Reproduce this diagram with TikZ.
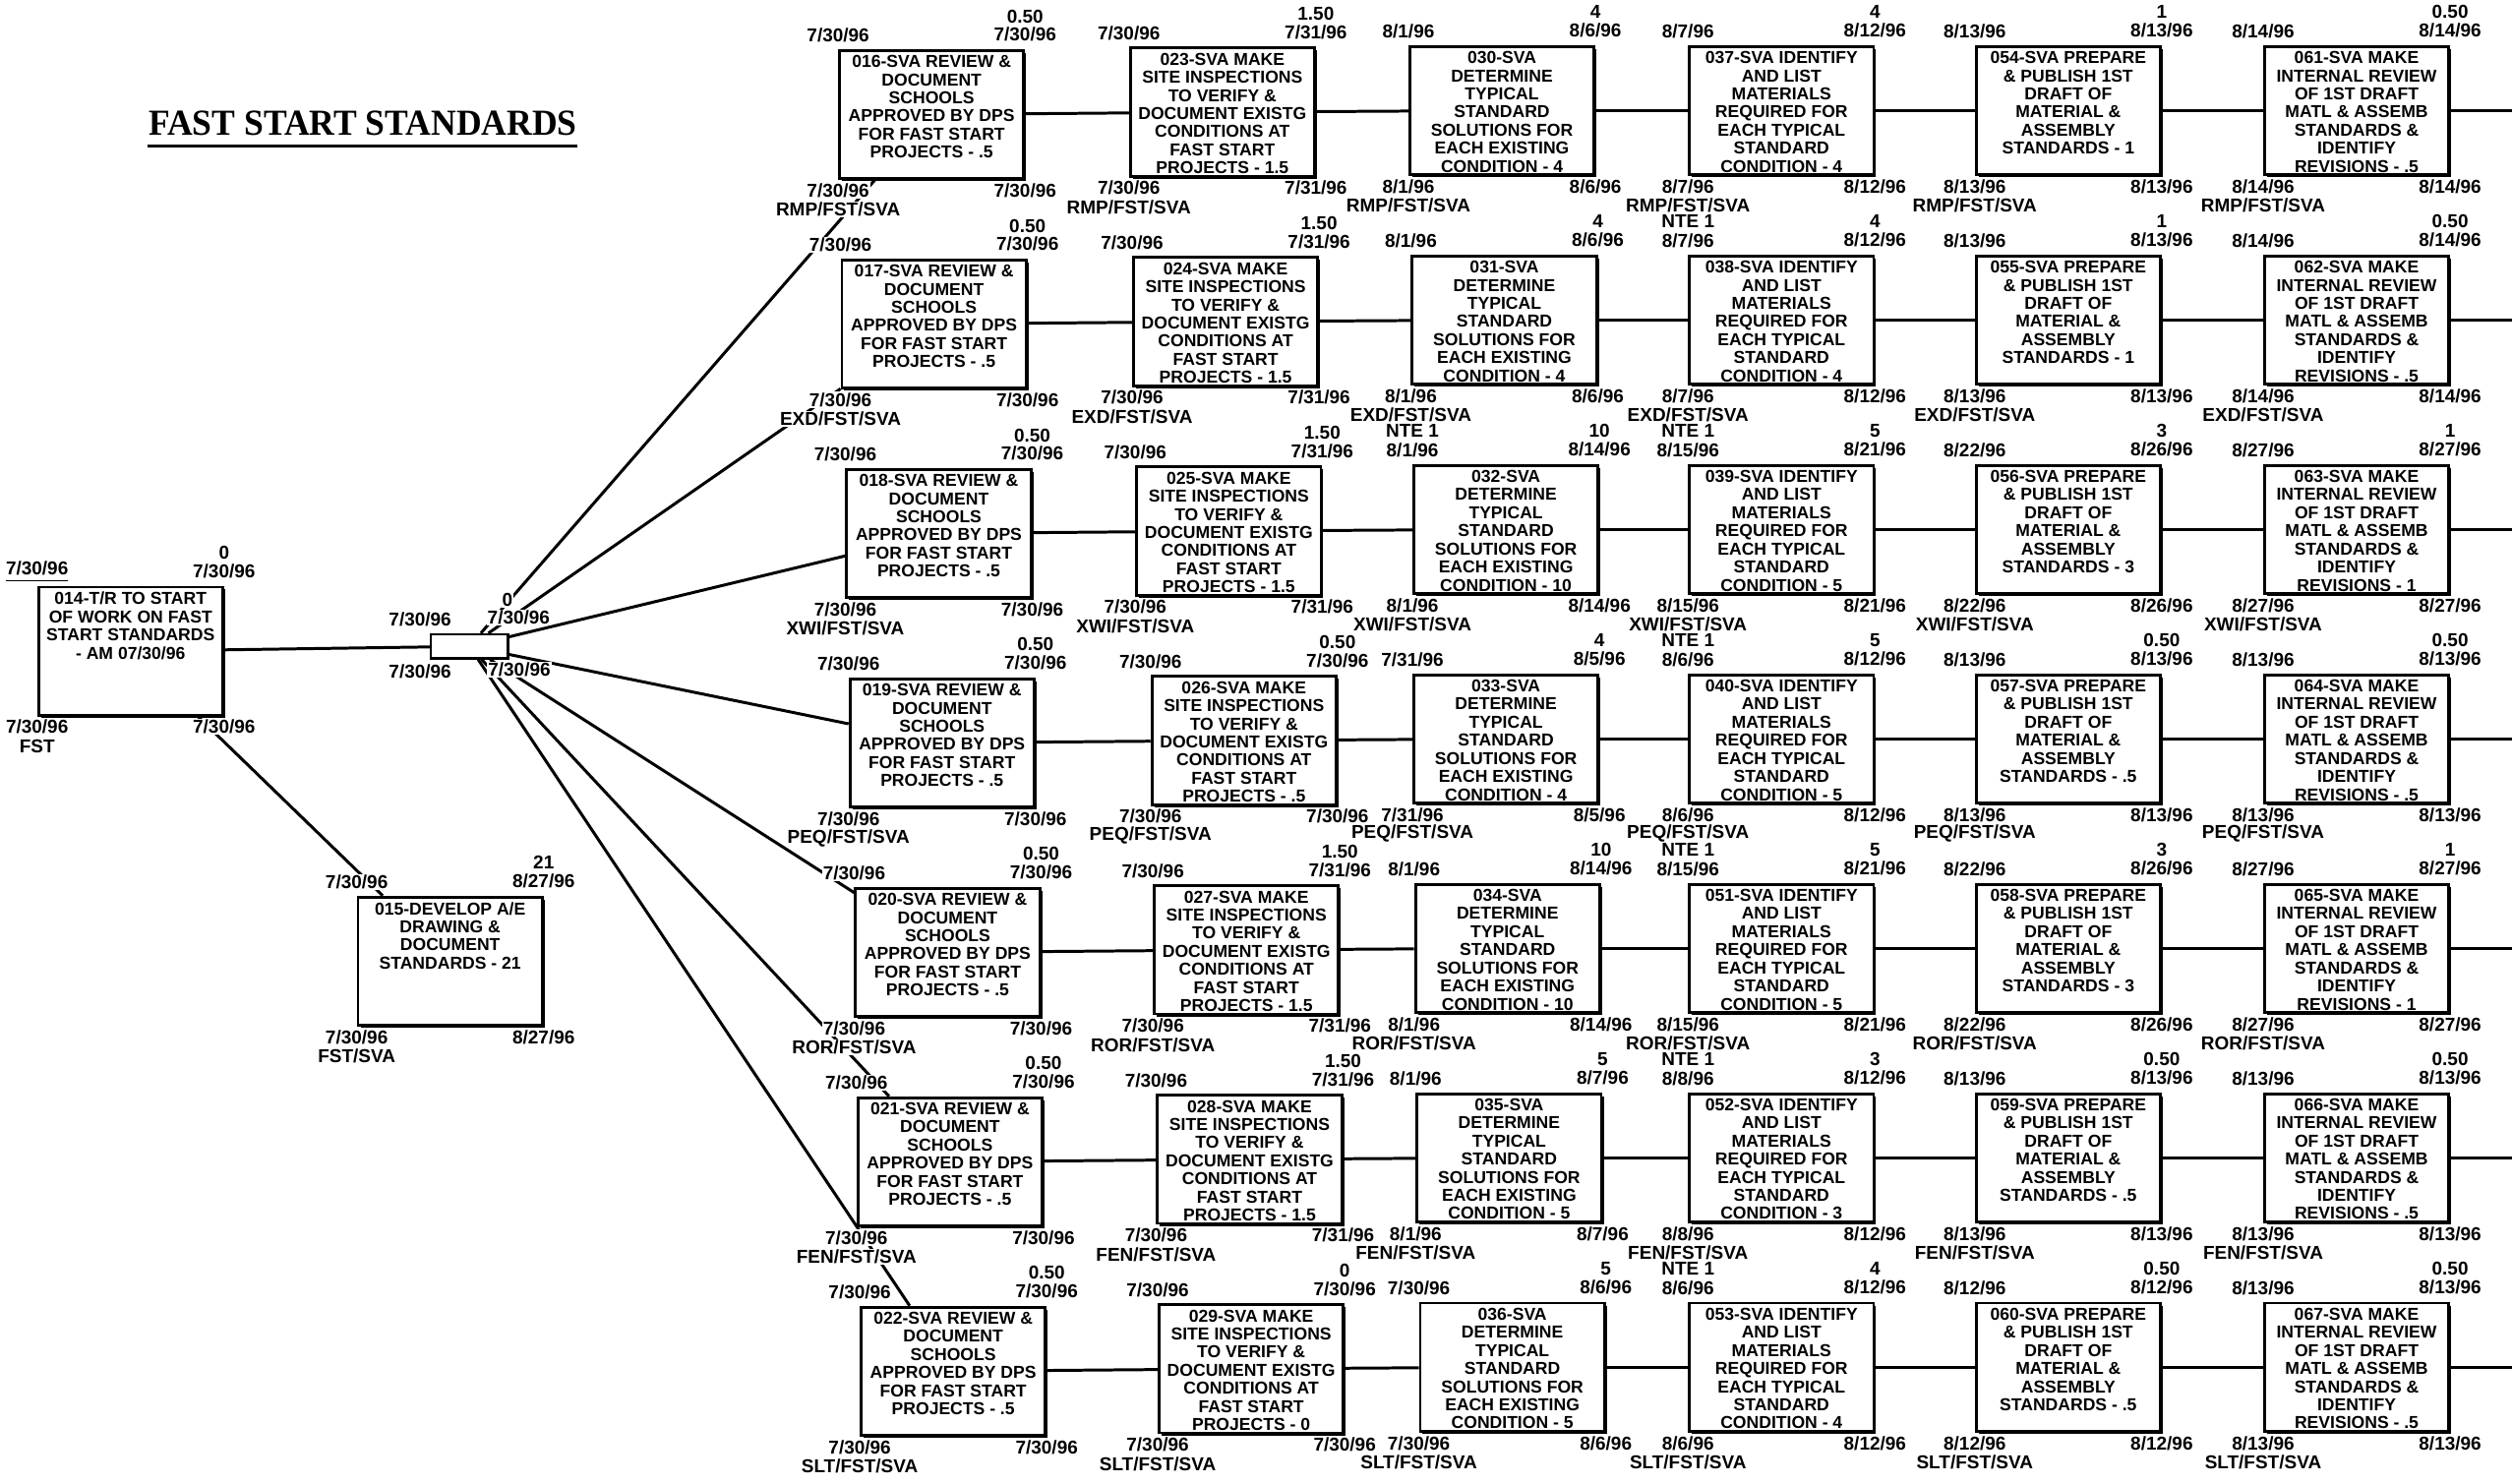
\documentclass[tikz,border=0pt]{standalone}
\usepackage{fontspec}
\setmainfont{Liberation Sans}
\newfontfamily\titlefam{Liberation Serif}[FakeStretch=0.955]
\usetikzlibrary{shadows,backgrounds}

\newcommand{\boxfont}{\bfseries\fontsize{5}{5.24}\selectfont}
\newcommand{\lblfont}{\bfseries\fontsize{5.4}{5.6}\selectfont}
\newcommand{\boxtxt}[1]{\parbox[c][13.03mm][t]{18.73mm}{\centering\vspace*{1.45pt}#1}}

% box texts, one per column
\newcommand{\reviewtxt}[2]{#1-SVA REVIEW \&\\DOCUMENT\\SCHOOLS\\APPROVED BY DPS\\FOR FAST START\\PROJECTS - #2}
\newcommand{\inspecttxt}[2]{#1-SVA MAKE\\SITE INSPECTIONS\\TO VERIFY \&\\DOCUMENT EXISTG\\CONDITIONS AT\\FAST START\\PROJECTS - #2}
\newcommand{\determinetxt}[2]{#1-SVA\\DETERMINE\\TYPICAL\\STANDARD\\SOLUTIONS FOR\\EACH EXISTING\\CONDITION - #2}
\newcommand{\identifytxt}[2]{#1-SVA IDENTIFY\\AND LIST\\MATERIALS\\REQUIRED FOR\\EACH TYPICAL\\STANDARD\\CONDITION - #2}
\newcommand{\publishtxt}[2]{#1-SVA PREPARE\\\& PUBLISH 1ST\\DRAFT OF\\MATERIAL \&\\ASSEMBLY\\STANDARDS - #2}
\newcommand{\internaltxt}[2]{#1-SVA MAKE\\INTERNAL REVIEW\\OF 1ST DRAFT\\MATL \& ASSEMB\\STANDARDS \&\\IDENTIFY\\REVISIONS - #2}

\tikzset{
  taskbox/.style={draw, line width=0.8pt, fill=white, inner sep=0pt, font=\boxfont,
    minimum width=18.73mm, minimum height=13.03mm,
    drop shadow={shadow xshift=0.25mm, shadow yshift=-0.25mm, fill=black, opacity=1}},
  msbox/.style={draw, line width=0.7pt, fill=white, inner sep=0pt,
    minimum width=7.82mm, minimum height=2.44mm,
    drop shadow={shadow xshift=0.2mm, shadow yshift=-0.2mm, fill=black, opacity=1}},
  lbl/.style={font=\lblfont, fill=white, inner sep=0.3pt},
  link/.style={line width=0.85pt},
}

% task box with its dates, duration and resource
\newcommand{\tasknode}[9]{%
  \node[taskbox] (#1) at #2 {\boxtxt{#3}};
  \node[lbl] (#1-tl) at ([yshift=1.38mm]#1.north west) {#4};
  \node[lbl] (#1-dur) at ([yshift=3.34mm]#1.north east) {#5};
  \node[lbl] (#1-tr) at ([yshift=1.5mm]#1.north east) {#6};
  \node[lbl] (#1-bl) at ([yshift=-1.06mm]#1.south west) {#7};
  \node[lbl] (#1-br) at ([yshift=-1.06mm]#1.south east) {#8};
  \node[lbl] (#1-res) at ([yshift=-3.01mm]#1.south west) {#9};
}

\begin{document}
\begin{tikzpicture}[x=0.16288mm, y=-0.16288mm]
\useasboundingbox (0,0) rectangle (1568,926);

\node[font={\titlefam\fontsize{10.6}{12}\selectfont\bfseries}, inner sep=0pt, anchor=base] (title) at (226.5,84.6) {FAST START STANDARDS};
\draw[line width=0.9pt] ([yshift=-1.04mm]title.base west) -- ([yshift=-1.04mm]title.base east);

% start tasks and milestone
\tasknode{t014}{(81.5,406.5)}{014-T/R TO START\\OF WORK ON FAST\\START STANDARDS\\- AM 07/30/96}{\underline{7/30/96}}{0}{7/30/96}{7/30/96}{7/30/96}{FST}
\tasknode{t015}{(281,600)}{015-DEVELOP A/E\\DRAWING \&\\DOCUMENT\\STANDARDS - 21}{7/30/96}{21}{8/27/96}{7/30/96}{8/27/96}{FST/SVA}

\node[msbox] (ms) at (293,403.5) {};
\node[lbl] (ms-tl) at ([xshift=-0.98mm, yshift=1.38mm]ms.north west) {7/30/96};
\node[lbl] (ms-dur) at ([xshift=-0.16mm, yshift=3.34mm]ms.north east) {0};
\node[lbl] (ms-tr) at ([xshift=0.98mm, yshift=1.6mm]ms.north east) {7/30/96};
\node[lbl] (ms-bl) at ([xshift=-0.98mm, yshift=-1.24mm]ms.south west) {7/30/96};
\node[lbl] (ms-br) at ([xshift=1.04mm, yshift=-1.06mm]ms.south east) {7/30/96};

% row 1
\tasknode{t016}{(581.5,71.5)}{\reviewtxt{016}{.5}}{7/30/96}{0.50}{7/30/96}{7/30/96}{7/30/96}{RMP/FST/SVA}
\tasknode{t023}{(763,70)}{\inspecttxt{023}{1.5}}{7/30/96}{1.50}{7/31/96}{7/30/96}{7/31/96}{RMP/FST/SVA}
\tasknode{t030}{(937.5,69)}{\determinetxt{030}{4}}{8/1/96}{4}{8/6/96}{8/1/96}{8/6/96}{RMP/FST/SVA}
\tasknode{t037}{(1112,69)}{\identifytxt{037}{4}}{8/7/96}{4}{8/12/96}{8/7/96}{8/12/96}{RMP/FST/SVA}
\tasknode{t054}{(1291,69)}{\publishtxt{054}{1}}{8/13/96}{1}{8/13/96}{8/13/96}{8/13/96}{RMP/FST/SVA}
\tasknode{t061}{(1471,69)}{\internaltxt{061}{.5}}{8/14/96}{0.50}{8/14/96}{8/14/96}{8/14/96}{RMP/FST/SVA}

% row 2
\tasknode{t017}{(583,202.25)}{\reviewtxt{017}{.5}}{7/30/96}{0.50}{7/30/96}{7/30/96}{7/30/96}{EXD/FST/SVA}
\tasknode{t024}{(765,200.75)}{\inspecttxt{024}{1.5}}{7/30/96}{1.50}{7/31/96}{7/30/96}{7/31/96}{EXD/FST/SVA}
\tasknode{t031}{(939,199.75)}{\determinetxt{031}{4}}{8/1/96}{4}{8/6/96}{8/1/96}{8/6/96}{EXD/FST/SVA}
\tasknode{t038}{(1112,199.75)}{\identifytxt{038}{4}}{8/7/96}{4}{8/12/96}{8/7/96}{8/12/96}{EXD/FST/SVA}
\tasknode{t055}{(1291,199.75)}{\publishtxt{055}{1}}{8/13/96}{1}{8/13/96}{8/13/96}{8/13/96}{EXD/FST/SVA}
\tasknode{t062}{(1471,199.75)}{\internaltxt{062}{.5}}{8/14/96}{0.50}{8/14/96}{8/14/96}{8/14/96}{EXD/FST/SVA}

% row 3
\tasknode{t018}{(586,333)}{\reviewtxt{018}{.5}}{7/30/96}{0.50}{7/30/96}{7/30/96}{7/30/96}{XWI/FST/SVA}
\tasknode{t025}{(767,331.5)}{\inspecttxt{025}{1.5}}{7/30/96}{1.50}{7/31/96}{7/30/96}{7/31/96}{XWI/FST/SVA}
\tasknode{t032}{(940,330.5)}{\determinetxt{032}{10}}{8/1/96}{10}{8/14/96}{8/1/96}{8/14/96}{XWI/FST/SVA}
\tasknode{t039}{(1112,330.5)}{\identifytxt{039}{5}}{8/15/96}{5}{8/21/96}{8/15/96}{8/21/96}{XWI/FST/SVA}
\tasknode{t056}{(1291,330.5)}{\publishtxt{056}{3}}{8/22/96}{3}{8/26/96}{8/22/96}{8/26/96}{XWI/FST/SVA}
\tasknode{t063}{(1471,330.5)}{\internaltxt{063}{1}}{8/27/96}{1}{8/27/96}{8/27/96}{8/27/96}{XWI/FST/SVA}

% row 4
\tasknode{t019}{(588,463.75)}{\reviewtxt{019}{.5}}{7/30/96}{0.50}{7/30/96}{7/30/96}{7/30/96}{PEQ/FST/SVA}
\tasknode{t026}{(776.5,462.25)}{\inspecttxt{026}{.5}}{7/30/96}{0.50}{7/30/96}{7/30/96}{7/30/96}{PEQ/FST/SVA}
\tasknode{t033}{(940,461.25)}{\determinetxt{033}{4}}{7/31/96}{4}{8/5/96}{7/31/96}{8/5/96}{PEQ/FST/SVA}
\tasknode{t040}{(1112,461.25)}{\identifytxt{040}{5}}{8/6/96}{5}{8/12/96}{8/6/96}{8/12/96}{PEQ/FST/SVA}
\tasknode{t057}{(1291,461.25)}{\publishtxt{057}{.5}}{8/13/96}{0.50}{8/13/96}{8/13/96}{8/13/96}{PEQ/FST/SVA}
\tasknode{t064}{(1471,461.25)}{\internaltxt{064}{.5}}{8/13/96}{0.50}{8/13/96}{8/13/96}{8/13/96}{PEQ/FST/SVA}

% row 5
\tasknode{t020}{(591.5,594.5)}{\reviewtxt{020}{.5}}{7/30/96}{0.50}{7/30/96}{7/30/96}{7/30/96}{ROR/FST/SVA}
\tasknode{t027}{(778,593)}{\inspecttxt{027}{1.5}}{7/30/96}{1.50}{7/31/96}{7/30/96}{7/31/96}{ROR/FST/SVA}
\tasknode{t034}{(941,592)}{\determinetxt{034}{10}}{8/1/96}{10}{8/14/96}{8/1/96}{8/14/96}{ROR/FST/SVA}
\tasknode{t051}{(1112,592)}{\identifytxt{051}{5}}{8/15/96}{5}{8/21/96}{8/15/96}{8/21/96}{ROR/FST/SVA}
\tasknode{t058}{(1291,592)}{\publishtxt{058}{3}}{8/22/96}{3}{8/26/96}{8/22/96}{8/26/96}{ROR/FST/SVA}
\tasknode{t065}{(1471,592)}{\internaltxt{065}{1}}{8/27/96}{1}{8/27/96}{8/27/96}{8/27/96}{ROR/FST/SVA}

% row 6
\tasknode{t021}{(593,725.25)}{\reviewtxt{021}{.5}}{7/30/96}{0.50}{7/30/96}{7/30/96}{7/30/96}{FEN/FST/SVA}
\tasknode{t028}{(780,723.75)}{\inspecttxt{028}{1.5}}{7/30/96}{1.50}{7/31/96}{7/30/96}{7/31/96}{FEN/FST/SVA}
\tasknode{t035}{(942,722.75)}{\determinetxt{035}{5}}{8/1/96}{5}{8/7/96}{8/1/96}{8/7/96}{FEN/FST/SVA}
\tasknode{t052}{(1112,722.75)}{\identifytxt{052}{3}}{8/8/96}{3}{8/12/96}{8/8/96}{8/12/96}{FEN/FST/SVA}
\tasknode{t059}{(1291,722.75)}{\publishtxt{059}{.5}}{8/13/96}{0.50}{8/13/96}{8/13/96}{8/13/96}{FEN/FST/SVA}
\tasknode{t066}{(1471,722.75)}{\internaltxt{066}{.5}}{8/13/96}{0.50}{8/13/96}{8/13/96}{8/13/96}{FEN/FST/SVA}

% row 7
\tasknode{t022}{(595,856)}{\reviewtxt{022}{.5}}{7/30/96}{0.50}{7/30/96}{7/30/96}{7/30/96}{SLT/FST/SVA}
\tasknode{t029}{(781,854.5)}{\inspecttxt{029}{0}}{7/30/96}{0}{7/30/96}{7/30/96}{7/30/96}{SLT/FST/SVA}
\tasknode{t036}{(944,853.5)}{\determinetxt{036}{5}}{7/30/96}{5}{8/6/96}{7/30/96}{8/6/96}{SLT/FST/SVA}
\tasknode{t053}{(1112,853.5)}{\identifytxt{053}{4}}{8/6/96}{4}{8/12/96}{8/6/96}{8/12/96}{SLT/FST/SVA}
\tasknode{t060}{(1291,853.5)}{\publishtxt{060}{.5}}{8/12/96}{0.50}{8/12/96}{8/12/96}{8/12/96}{SLT/FST/SVA}
\tasknode{t067}{(1471,853.5)}{\internaltxt{067}{.5}}{8/13/96}{0.50}{8/13/96}{8/13/96}{8/13/96}{SLT/FST/SVA}

% not-to-exceed notes
\foreach \t in {t038,t032,t039,t040,t051,t052,t053}
  \node[lbl] (\t-nte) at ([yshift=3.34mm]\t.north west) {NTE 1};

% open ends at the right edge
\foreach \row in {1,...,7}
  \coordinate (end\row) at (1568,{69+130.75*(\row-1)});

\begin{scope}[on background layer]
  \draw[link] (t014) -- (ms);
  \draw[link] (t014) -- (t015);
  \foreach \one/\two/\three/\four/\five/\six/\row in {016/023/030/037/054/061/1, 017/024/031/038/055/062/2, 018/025/032/039/056/063/3, 019/026/033/040/057/064/4, 020/027/034/051/058/065/5, 021/028/035/052/059/066/6, 022/029/036/053/060/067/7}{
    \draw[link] (ms) -- (t\one);
    \draw[link] (t\one) -- (t\two);
    \draw[link] (t\two) -- (t\three);
    \draw[link] (t\three) -- (t\four);
    \draw[link] (t\four) -- (t\five);
    \draw[link] (t\five) -- (t\six);
    \draw[link] (t\six) -- (end\row);
  }
\end{scope}
\end{tikzpicture}
\end{document}
